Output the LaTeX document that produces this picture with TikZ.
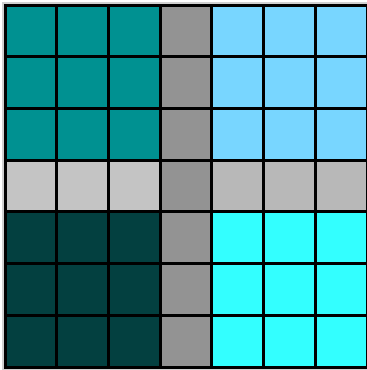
\documentclass[tikz,border=0pt]{standalone}
\usetikzlibrary{calc}
\definecolor{cellteal}{HTML}{009191}
\definecolor{cellsky}{HTML}{78D6FF}
\definecolor{celldark}{HTML}{034040}
\definecolor{cellcyan}{HTML}{33FFFF}
\definecolor{cellgray}{HTML}{939393}
\definecolor{celllight}{HTML}{C4C4C4}
\definecolor{celllightb}{HTML}{B8B8B8}
\definecolor{shadowgray}{HTML}{D0D0D0}

\begin{document}
\begin{tikzpicture}[x=1pt, y=-1pt, line width=3pt, line cap=rect]
  \useasboundingbox (0,0) rectangle (367,370);
  \def\cs{51.714}
  % soft edge behind the board
  \fill[shadowgray] (1.5,1.5) rectangle (367,369.5);
  % quadrants
  \fill[cellteal] (5,5) rectangle ({5+3*\cs},{5+3*\cs});
  \fill[cellsky] ({5+4*\cs},5) rectangle (367,{5+3*\cs});
  \fill[celldark] (5,{5+4*\cs}) rectangle ({5+3*\cs},367);
  \fill[cellcyan] ({5+4*\cs},{5+4*\cs}) rectangle (367,367);
  % middle cross
  \fill[celllight] (5,{5+3*\cs}) rectangle ({5+3*\cs},{5+4*\cs});
  \fill[celllightb] ({5+4*\cs},{5+3*\cs}) rectangle (367,{5+4*\cs});
  \fill[cellgray] ({5+3*\cs},5) rectangle ({5+4*\cs},367);
  % grid lines
  \foreach \i in {0,...,7} {
    \draw ({5+\i*\cs},5) -- ({5+\i*\cs},367);
    \draw (5,{5+\i*\cs}) -- (367,{5+\i*\cs});
  }
\end{tikzpicture}
\end{document}
